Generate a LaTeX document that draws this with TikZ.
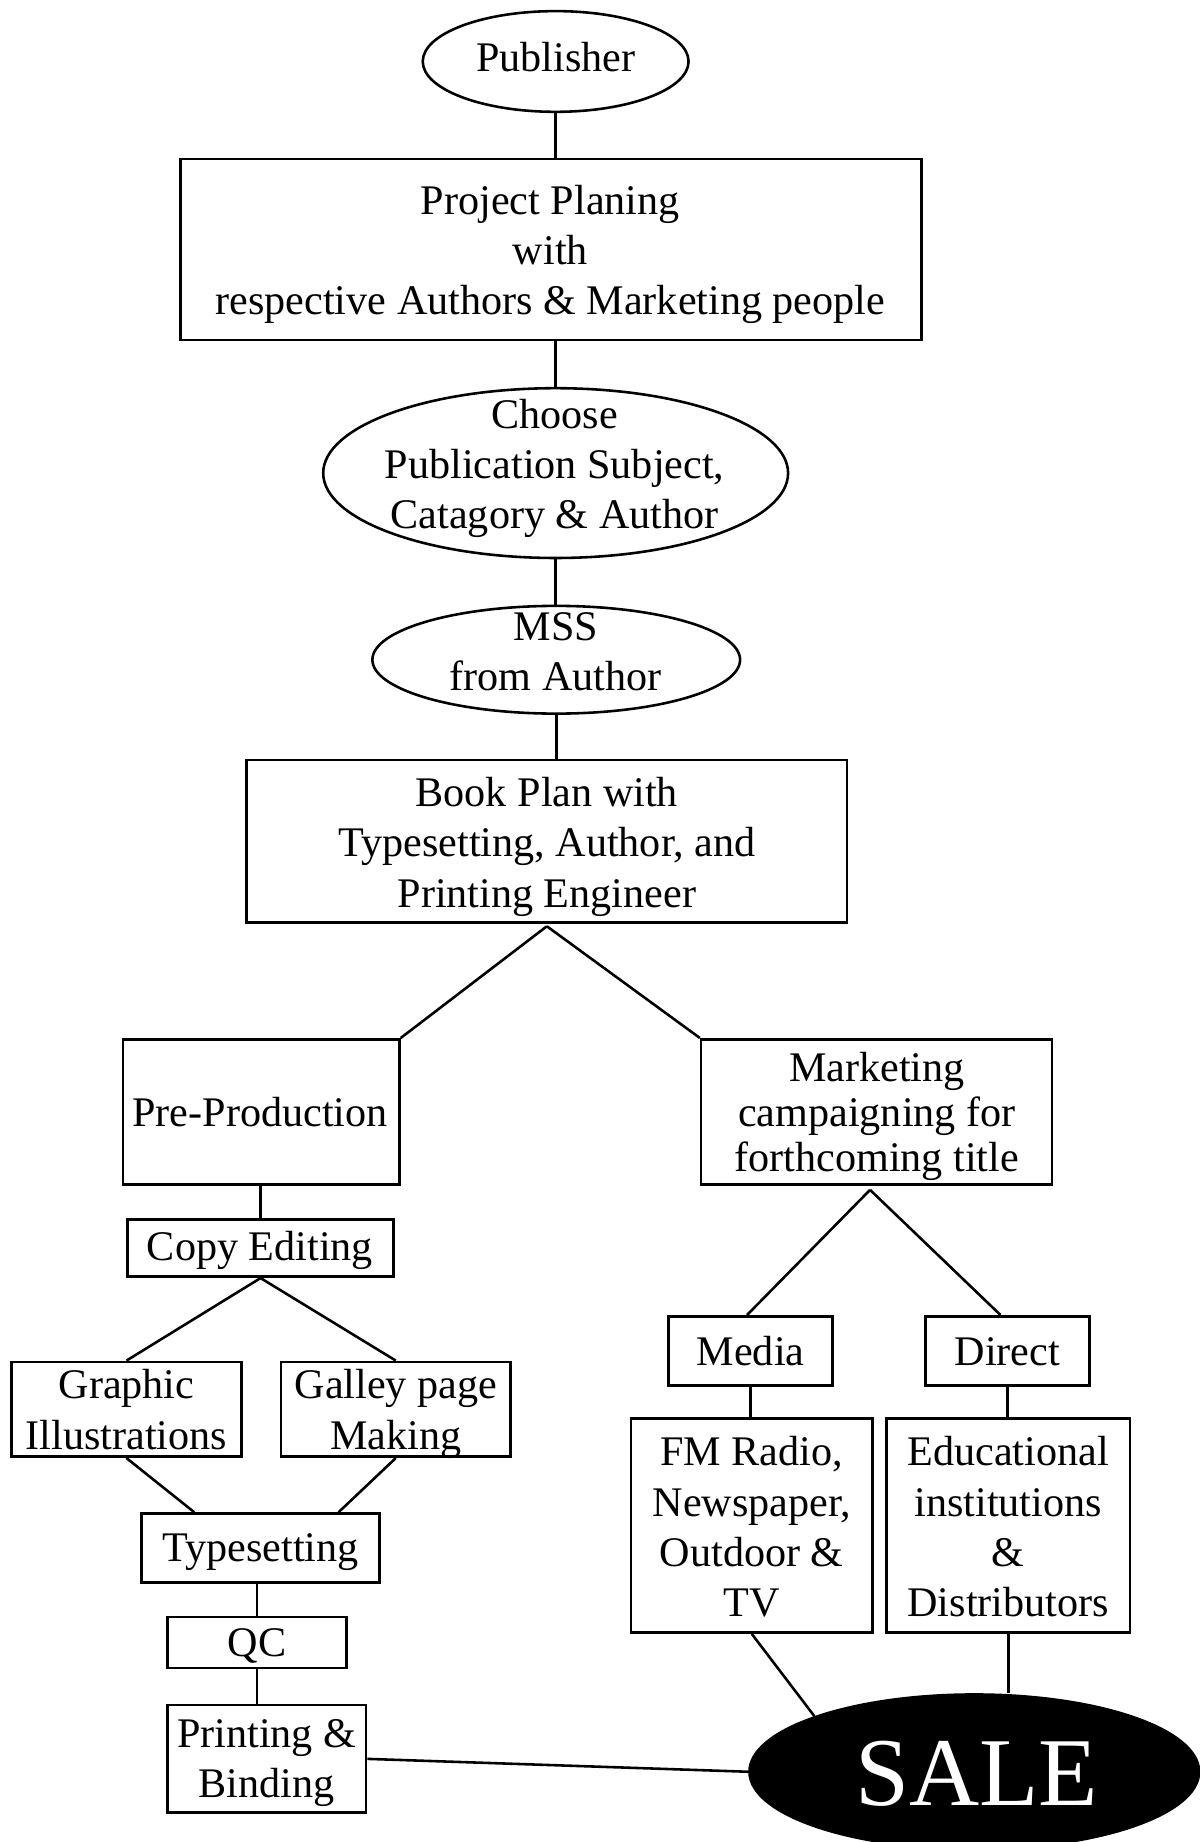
\documentclass[tikz,border=0pt]{standalone}
\usepackage{fontspec}
\setmainfont{Liberation Serif}
\usetikzlibrary{shapes.geometric,calc}
\newcommand\fa{\fontsize{18pt}{21.5pt}\selectfont}
\newcommand\fb{\fontsize{18pt}{19.25pt}\selectfont}
\newcommand\fsale{\fontsize{41.5pt}{48pt}\selectfont}
\begin{document}
\begin{tikzpicture}[x=0.5pt,y=-0.5pt,
  ln/.style={line width=1.1pt},
  box/.style={draw, rectangle, inner sep=0pt, line width=1.1pt},
  ell/.style={draw, ellipse, inner sep=0pt, line width=1.1pt},
  txt/.style={align=center, inner sep=0pt, font=\fa}]
\useasboundingbox (0,0) rectangle (1024,1573);
\fill[white] (0,0) rectangle (1024,1573);

\node[ell, minimum width=113.5pt, minimum height=43pt] (pub) at (474.5,52.5) {};
\node[txt] (pubT) at (474.5,52.4) {\strut Publisher};

\node[box, minimum width=316.5pt, minimum height=77.3pt] (proj) at (470.5,213) {};
\node[txt] (projT) at (470,217.2) {\strut Project Planing\\\strut with\\\strut respective Authors \& Marketing people};

\node[ell, minimum width=198.5pt, minimum height=72.5pt] (choose) at (474.5,404) {};
\node[txt] (chooseT) at (473.6,400.1) {\strut Choose\\\strut Publication Subject,\\\strut Catagory \& Author};

\node[ell, minimum width=157pt, minimum height=46pt] (mss) at (475,563.4) {};
\node[txt] (mssT) at (474.6,559.6) {\strut MSS\\\strut from Author};

\node[box, minimum width=256.3pt, minimum height=69.5pt] (book) at (467,718.4) {};
\node[txt] (bookT) at (467,723) {\strut Book Plan with\\\strut Typesetting, Author, and\\\strut Printing Engineer};

\node[box, minimum width=118.1pt, minimum height=62pt] (pre) at (223,949.5) {};
\node[txt] (preT) at (222,953.4) {\strut Pre-Production};

\node[box, minimum width=149.75pt, minimum height=62pt] (mkt) at (748.5,949.5) {};
\node[txt, font=\fb] (mktT) at (748.8,954) {\strut Marketing\\\strut campaigning for\\\strut forthcoming title};

\node[box, minimum width=113.5pt, minimum height=24.5pt] (copy) at (222.5,1065.8) {};
\node[txt] (copyT) at (222,1067.4) {\strut Copy Editing};

\node[box, minimum width=98pt, minimum height=40.5pt] (graph) at (108,1203.5) {};
\node[txt] (graphT) at (108,1207.3) {\strut Graphic\\\strut Illustrations};
\node[box, minimum width=98pt, minimum height=40.5pt] (galley) at (338,1203.5) {};
\node[txt] (galleyT) at (338,1207.3) {\strut Galley page\\\strut Making};

\node[box, minimum width=101.5pt, minimum height=29.5pt] (type) at (222.5,1322) {};
\node[txt] (typeT) at (222.5,1325) {\strut Typesetting};
\node[box, minimum width=76.5pt, minimum height=21.75pt] (qc) at (219.5,1402.7) {};
\node[txt] (qcT) at (219.5,1406) {\strut QC};
\node[box, minimum width=84.8pt, minimum height=46pt] (print) at (227.8,1502) {};
\node[txt] (printT) at (227.8,1505) {\strut Printing \&\\\strut Binding};

\node[box, minimum width=70.15pt, minimum height=29.5pt] (media) at (641,1153.5) {};
\node[txt] (mediaT) at (641,1157.2) {\strut Media};
\node[box, minimum width=70pt, minimum height=29.5pt] (direct) at (860.3,1153.5) {};
\node[txt] (directT) at (860.3,1157.2) {\strut Direct};

\node[box, minimum width=103pt, minimum height=91.5pt] (fm) at (642,1302.7) {};
\node[txt] (fmT) at (642,1307.5) {\strut FM Radio,\\\strut Newspaper,\\\strut Outdoor \&\\\strut TV};
\node[box, minimum width=104pt, minimum height=91.5pt] (edu) at (861,1302.7) {};
\node[txt] (eduT) at (861,1307.5) {\strut Educational\\\strut institutions\\\strut \&\\\strut Distributors};

\node[ell, fill=black, minimum width=192pt, minimum height=66pt] (sale) at (832,1513) {};
\node[font=\fsale, text=white, inner sep=0pt] (saleT) at (834,1514.5) {SALE};

\coordinate (mktap) at ($(mkt.south)+(-5.5,3.5)$);
\coordinate (bookap) at ($(book.south)+(0,2)$);

\draw[ln] (pub.south) -- (pub.south |- proj.north);
\draw[ln] (proj.south -| choose.north) -- (choose.north);
\draw[ln] (choose.south) -- (choose.south |- mss.north);
\draw[ln] (mss.south) -- (mss.south |- book.north);
\draw[ln] (bookap) -- (pre.north east);
\draw[ln] (bookap) -- (mkt.north west);
\draw[ln] (copy.north) -- (copy.north |- pre.south);
\draw[ln] (copy.south) -- (graph.north);
\draw[ln] (copy.south) -- (galley.north);
\draw[ln] (graph.south) -- ($(type.north west)+(46,0)$);
\draw[ln] (galley.south) -- ($(type.north east)+(-36,0)$);
\draw[ln] (qc.north) -- (qc.north |- type.south);
\draw[ln] (qc.south) -- (qc.south |- print.north);
\draw[ln] (print.east) -- (sale.west);
\draw[ln] (mktap) -- ($(media.north)+(-3,0)$);
\draw[ln] (mktap) -- ($(direct.north)+(-6,0)$);
\draw[ln] (media.south) -- (media.south |- fm.north);
\draw[ln] (direct.south) -- (direct.south |- edu.north);
\draw[ln] (fm.south) -- (sale.north west);
\draw[ln] (edu.south) -- (edu.south |- sale.north);
\end{tikzpicture}
\end{document}
